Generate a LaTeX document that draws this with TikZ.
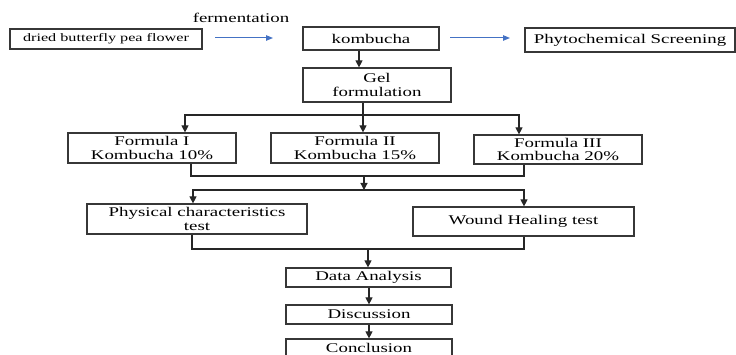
\documentclass[tikz,border=0pt]{standalone}
\usepackage{fontspec}
\setmainfont{Liberation Serif}[FakeStretch=1.42]
\usetikzlibrary{arrows.meta}
\definecolor{boxline}{RGB}{55,55,55}
\definecolor{bluearr}{RGB}{68,114,196}
\tikzset{
  box/.style={draw=boxline, line width=1.2pt, inner sep=0pt, align=center,
    font=\fontsize{13.3}{13.4}\selectfont},
  ln/.style={draw=black!85, line width=1.1pt},
  arr/.style={ln, -{Triangle[length=7pt,width=7pt]}},
  barr/.style={draw=bluearr, line width=1pt, -{Triangle[length=7pt,width=5.5pt]}}
}
\begin{document}
\begin{tikzpicture}[x=1pt,y=-1pt]
\useasboundingbox (0,0) rectangle (736,355);
\clip (0,0) rectangle (736,355);
% top row
\node[box, minimum width=192pt, minimum height=20pt, font=\fontsize{11.4}{12}\selectfont] (dried) at (106,39) {dried butterfly pea flower};
\node[font=\fontsize{13.3}{13.4}\selectfont] (ferm) at (241,18) {fermentation};
\node[box, minimum width=136pt, minimum height=23pt] (komb) at (371,38.5) {kombucha};
\node[box, minimum width=210pt, minimum height=24pt] (phyto) at (630,40) {Phytochemical Screening};
\coordinate (b1s) at (215,38);
\coordinate (b1e) at (273,38);
\coordinate (b2s) at (450,38);
\coordinate (b2e) at (510,38);
\draw[barr] (b1s) -- (b1e);
\draw[barr] (b2s) -- (b2e);
% gel
\node[box, minimum width=148pt, minimum height=34pt] (gel) at (377,85) {Gel\\formulation};
\draw[arr] (komb.south -| 359,0) -- (gel.north -| 359,0);
% formulas
\node[box, minimum width=168pt, minimum height=30pt] (f1) at (152,148) {Formula I\\Kombucha 10\%};
\node[box, minimum width=168pt, minimum height=30pt] (f2) at (355,148) {Formula II\\Kombucha 15\%};
\node[box, minimum width=168pt, minimum height=29pt] (f3) at (558,149.5) {Formula III\\Kombucha 20\%};
\coordinate (j1) at (363,115);
\draw[ln] (gel.south -| j1) -- (j1);
\draw[arr] (j1) -| (f1.north -| 185,0);
\draw[arr] (j1) -| (f3.north -| 519,0);
\draw[arr] (j1) -- (f2.north -| j1);
% tests
\node[box, minimum width=220pt, minimum height=30pt] (pc) at (197,219) {Physical characteristics\\test};
\node[box, minimum width=221pt, minimum height=29pt] (wh) at (523.5,221.5) {Wound Healing test};
\coordinate (j2) at (364,176);
\coordinate (j3) at (364,190);
\draw[ln] (f1.south -| 191,0) |- (j2);
\draw[ln] (f3.south -| 524,0) |- (j2);
\draw[arr] (j2) -- (j3);
\draw[arr] (j3) -| (pc.north -| 193,0);
\draw[arr] (j3) -| (wh.north -| 524,0);
% bottom chain
\node[box, minimum width=165pt, minimum height=19pt] (da) at (368.5,277.5) {Data Analysis};
\node[box, minimum width=166pt, minimum height=19pt] (di) at (369,314.5) {Discussion};
\node[box, minimum width=166pt, minimum height=18pt] (co) at (369,348) {Conclusion};
\coordinate (j4) at (368,249);
\draw[ln] (pc.south -| 192,0) |- (j4);
\draw[ln] (wh.south -| 524,0) |- (j4);
\draw[arr] (j4) -- (da.north -| j4);
\draw[arr] (da.south -| 369,0) -- (di.north -| 369,0);
\draw[arr] (di.south -| 369,0) -- (co.north -| 369,0);
\end{tikzpicture}
\end{document}
